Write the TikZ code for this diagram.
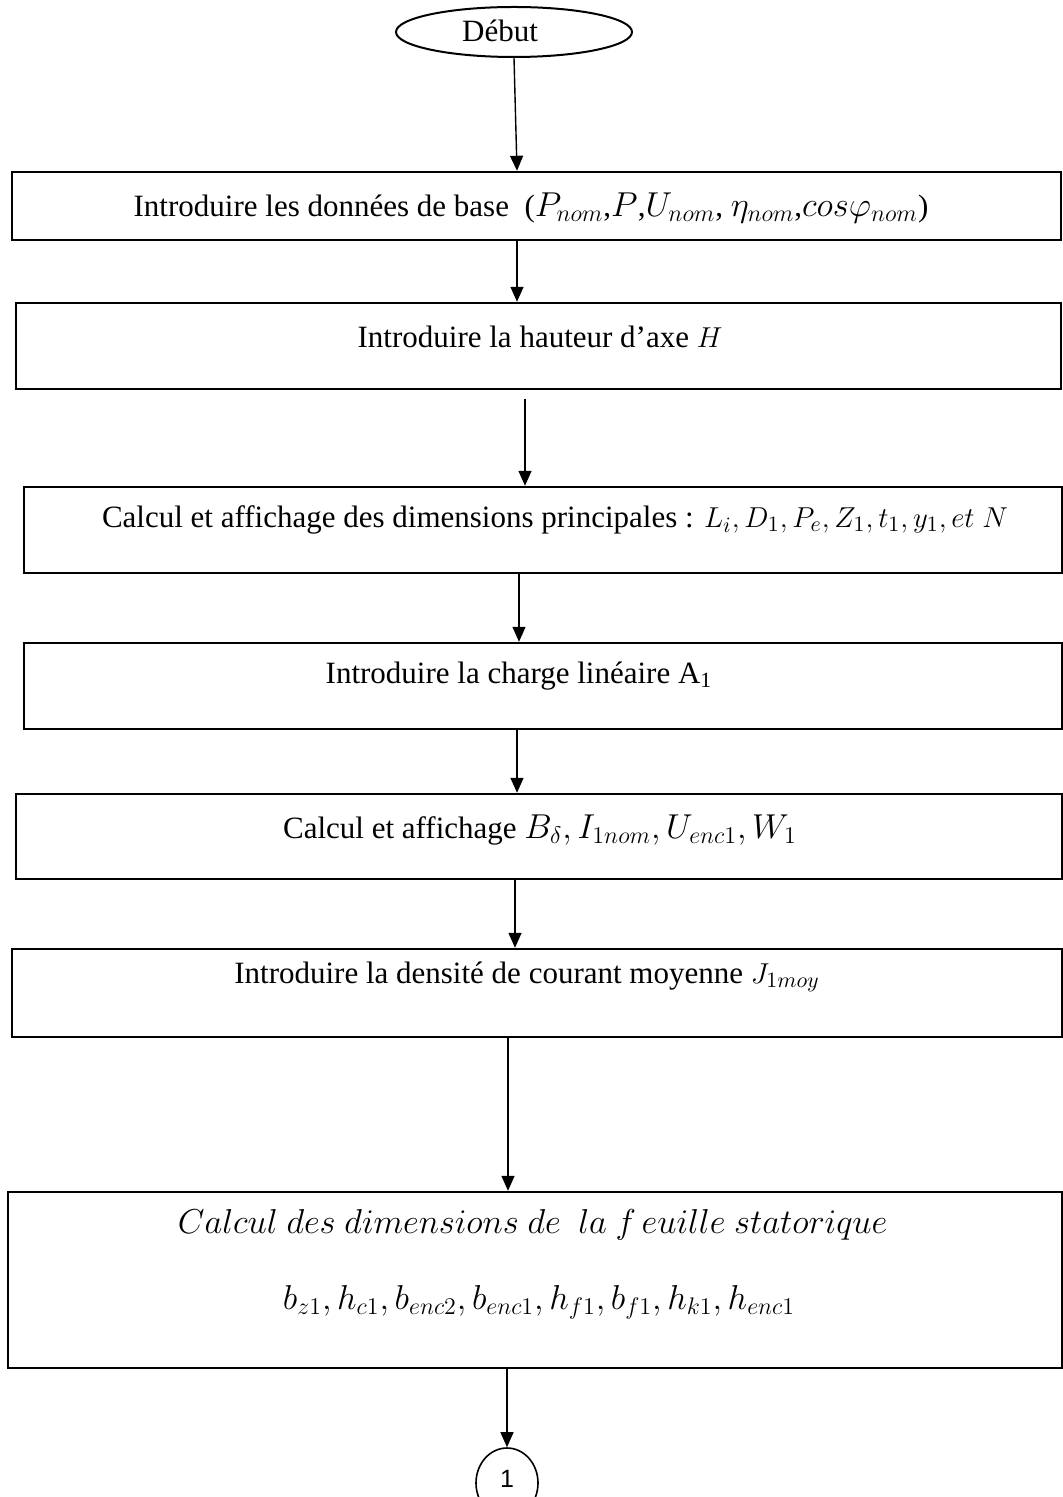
\documentclass[tikz,border=0pt]{standalone}
\usepackage{fontspec}
\setmainfont{Liberation Serif}
\newfontfamily\connfont{Liberation Sans}
\usetikzlibrary{shapes.geometric,arrows.meta}
\newcommand\upx{0.5pt}
% slightly larger math inside a text line
\newcommand\bigmath[1]{{\fontsize{17}{20}\selectfont$#1$}}
\begin{document}
\begin{tikzpicture}[x=0.5pt,y=-0.5pt,
  stepbox/.style={draw, line width=1.2pt, rectangle, inner sep=0pt},
  txt/.style={inner sep=0pt, font=\fontsize{15.5}{18}\selectfont},
  bigtxt/.style={inner sep=0pt, font=\fontsize{17.5}{20}\selectfont},
  arr/.style={line width=0.7pt, -{Triangle[length=7.5pt,width=6.5pt]}},
  term/.style={draw, ellipse, line width=1pt, inner sep=0pt}]
\useasboundingbox (0,0) rectangle (1062,1497);

% start terminal
\node[term, minimum width=236*\upx, minimum height=50*\upx] (start) at (514,32) {};
\node[txt] (tstart) at (500,31) {Début};

% process boxes
\node[stepbox, minimum width=1049*\upx, minimum height=68*\upx] (b1) at (536.5,206) {};
\node[stepbox, minimum width=1045*\upx, minimum height=86*\upx] (b2) at (538.5,346) {};
\node[stepbox, minimum width=1038*\upx, minimum height=86*\upx] (b3) at (543,530) {};
\node[stepbox, minimum width=1038*\upx, minimum height=86*\upx] (b4) at (543,686) {};
\node[stepbox, minimum width=1046*\upx, minimum height=85*\upx] (b5) at (539,836.5) {};
\node[stepbox, minimum width=1050*\upx, minimum height=88*\upx] (b6) at (537,993) {};
\node[stepbox, minimum width=1054*\upx, minimum height=176*\upx] (b7) at (535,1280) {};

% box texts
\node[txt] (t1) at (531,208) {Introduire les données de base \ (\bigmath{P_{nom}},\bigmath{P},\bigmath{U_{nom}}, \bigmath{\eta_{nom}},\bigmath{cos\varphi_{nom}})};
\node[txt] (t2) at (540,337) {Introduire la hauteur d’axe $H$};
\node[txt] (t3) at (555,520) {Calcul et affichage des dimensions principales : $L_i, D_1, P_e, Z_1, t_1, y_1, et\ N$};
\node[txt] (t4) at (519,676) {Introduire la charge linéaire A\textsubscript{1}};
\node[txt] (t5) at (540,830) {Calcul et affichage \bigmath{B_\delta, I_{1nom}, U_{enc1}, W_1}};
\node[txt] (t6) at (527,977) {Introduire la densité de courant moyenne $J_{1moy}$};
\node[bigtxt] (t7a) at (533,1225) {$Calcul\ des\ dimensions\ de\ \ la\ f\,euille\ statorique$};
\node[bigtxt] (t7b) at (539,1302) {$b_{z1}, h_{c1}, b_{enc2}, b_{enc1}, h_{f1}, b_{f1}, h_{k1}, h_{enc1}$};

% page connector
\node[term, line width=0.8pt, minimum width=62*\upx, minimum height=70*\upx] (one) at (507,1483) {};
\node[inner sep=0pt, font=\connfont\fontsize{12.5}{14}\selectfont] (tone) at (507,1479) {1};

% flow arrows
\draw[arr] (start.south) -- ([xshift=-19.5*\upx]b1.north);
\draw[arr] ([xshift=-19.5*\upx]b1.south) -- ([xshift=-21.5*\upx]b2.north);
\draw[arr] ([xshift=-13.5*\upx,yshift=-9*\upx]b2.south) -- ([xshift=-18*\upx]b3.north);
\draw[arr] ([xshift=-24*\upx]b3.south) -- ([xshift=-24*\upx]b4.north);
\draw[arr] ([xshift=-26*\upx]b4.south) -- ([xshift=-22*\upx]b5.north);
\draw[arr] ([xshift=-24*\upx]b5.south) -- ([xshift=-22*\upx]b6.north);
\draw[arr] ([xshift=-29*\upx]b6.south) -- ([xshift=-27*\upx]b7.north);
\draw[arr] ([xshift=-28*\upx]b7.south) -- (one.north);
\end{tikzpicture}
\end{document}
